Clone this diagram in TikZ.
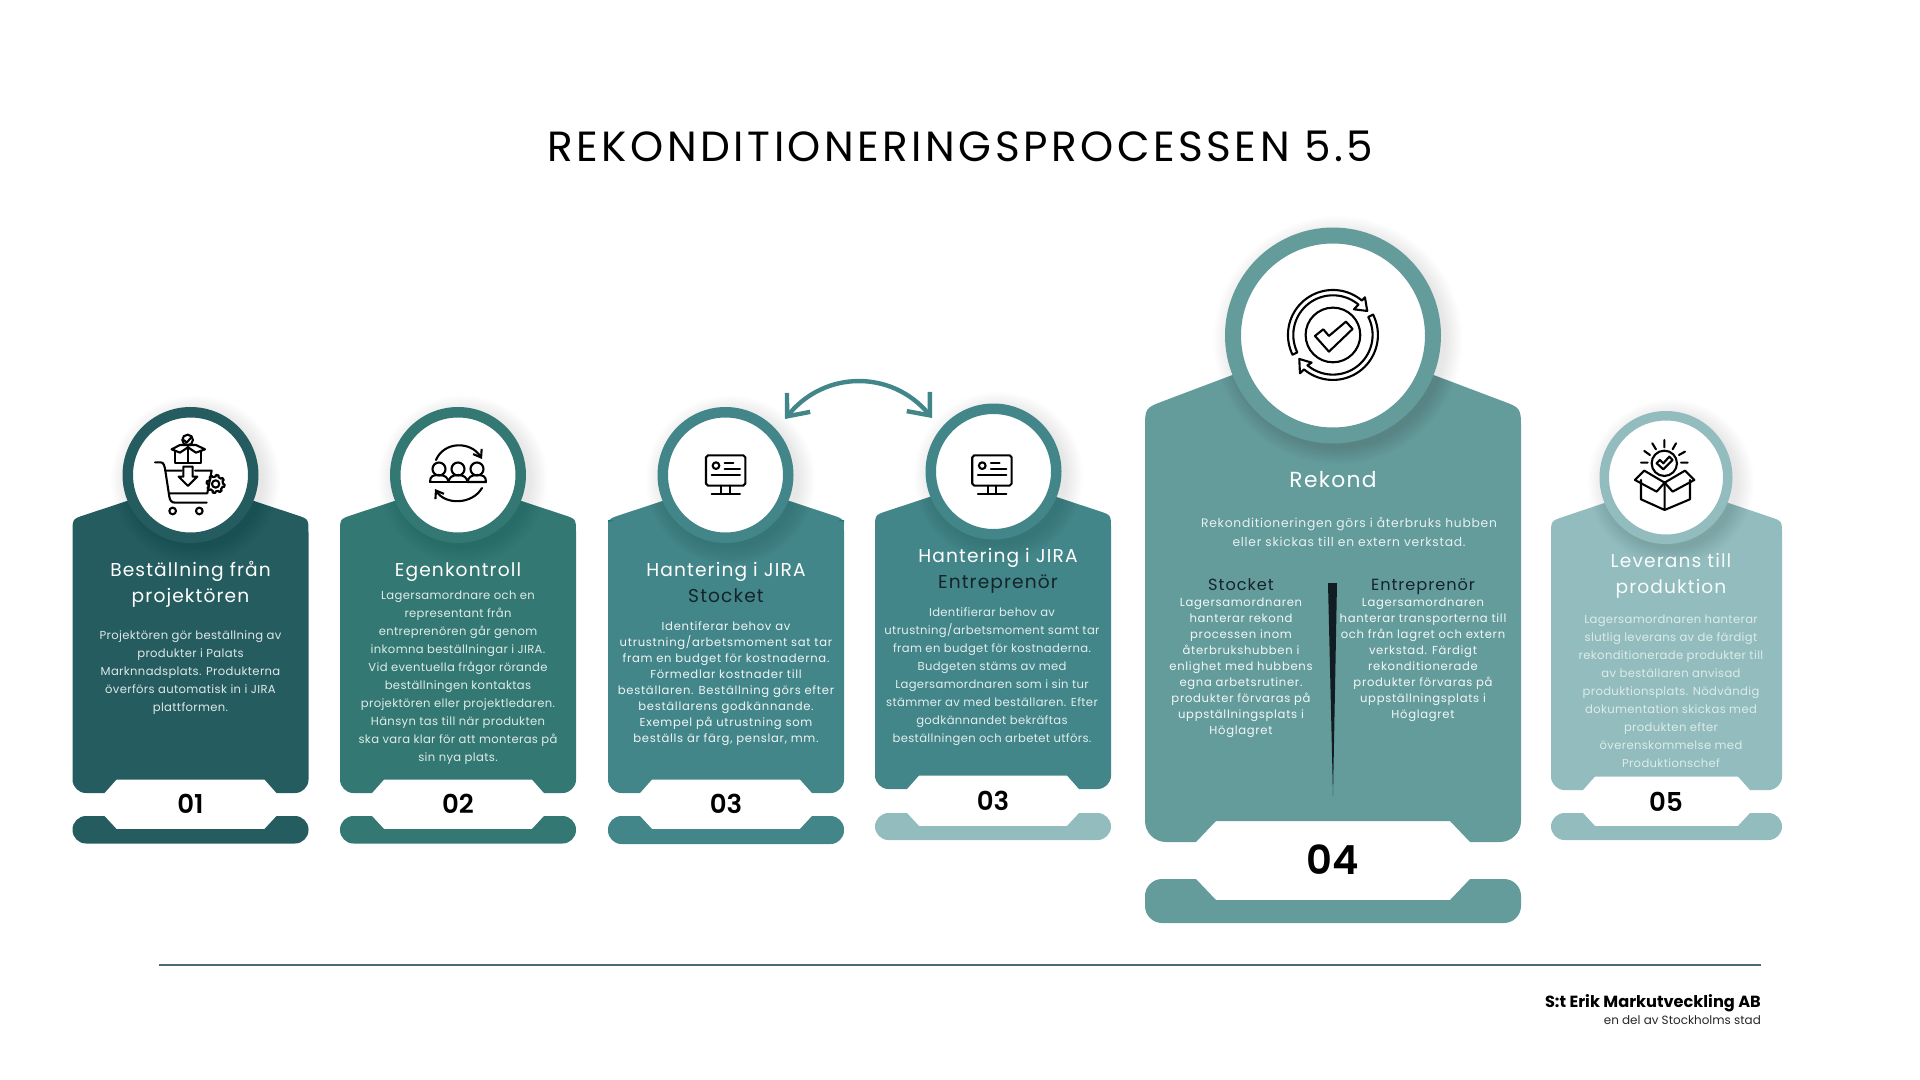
\documentclass[tikz,border=0pt]{standalone}
\usepackage{fontspec}
\setmainfont{Poppins}
\newfontfamily\widefont{Poppins}[LetterSpace=6]
\newfontfamily\descfont{Poppins}[LetterSpace=3]
\newfontfamily\headfont{Poppins}[LetterSpace=8.3]
\newfontfamily\numfont{Poppins SemiBold}
\usetikzlibrary{
    arrows.meta,
    calc,
}
\definecolor{cardA}{HTML}{255C60}
\definecolor{cardB}{HTML}{337872}
\definecolor{cardC}{HTML}{428689}
\definecolor{cardD}{HTML}{649C9C}
\definecolor{cardE}{HTML}{92BCBD}
\definecolor{inkdark}{HTML}{15242A}
\tikzstyle{ringsmall}=[circle,fill=white,inner sep=0pt,line width=.525cm,minimum size=6.275cm]
\tikzstyle{cardtitle}=[align=center,inner sep=0pt,font=\widefont\fontsize{26.5}{37}\selectfont]
\tikzstyle{carddesc}=[align=center,inner sep=0pt,font=\descfont\fontsize{16.5}{25.6}\selectfont]
\tikzstyle{carddense}=[align=center,inner sep=0pt,font=\widefont\fontsize{16.5}{22.76}\selectfont]
\tikzstyle{cardnum}=[inner sep=0pt,font=\numfont\fontsize{37}{37}\selectfont,text=black]
\tikzstyle{subhead}=[anchor=base,inner sep=0pt,text=inkdark,font=\widefont\fontsize{23}{23}\selectfont]
\tikzstyle{icon}=[draw=black,line width=.105cm,line join=round,line cap=round]
\tikzstyle{zoomed}=[x=.016667cm,y=-.016667cm]
\newcommand{\cardbody}[9]{%
    \fill[#1] ({(#2+#3)/2},#5)
        -- ($(#3,#4)!.1!({(#2+#3)/2},#5)$) .. controls (#3,#4) .. (#3,{#4+#7})
        -- (#3,{#6-#7}) .. controls (#3,{#6-.45*#7}) and ({#3-.45*#7},#6) .. ({#3-#7},#6)
        -- ({#3-#8},#6) -- ({#3-#9},{#6-#7}) -- ({#2+#9},{#6-#7}) -- ({#2+#8},#6)
        -- ({#2+#7},#6) .. controls ({#2+.45*#7},#6) and (#2,{#6-.45*#7}) .. (#2,{#6-#7})
        -- (#2,{#4+#7}) .. controls (#2,#4) .. ($(#2,#4)!.1!({(#2+#3)/2},#5)$) -- cycle;}
\newcommand{\cardfoot}[9]{%
    \fill[#1] ({#2+#9},#4) -- ({#2+#7},#4) -- ({#2+#8},{#4+#6}) -- ({#3-#8},{#4+#6}) -- ({#3-#7},#4)
        -- ({#3-#9},#4) .. controls ({#3-.45*#9},#4) and (#3,{#4+.45*#9}) .. (#3,{#4+#9})
        -- (#3,{#5-#9}) .. controls (#3,{#5-.45*#9}) and ({#3-.45*#9},#5) .. ({#3-#9},#5)
        -- ({#2+#9},#5) .. controls ({#2+.45*#9},#5) and (#2,{#5-.45*#9}) .. (#2,{#5-#9})
        -- (#2,{#4+#9}) .. controls (#2,{#4+.45*#9}) and ({#2+.45*#9},#4) .. ({#2+#9},#4) -- cycle;}
\newcommand{\softshadow}[3]{%
    \foreach \k in {0,...,11}
        \fill[black,opacity=.009] ({#1+5},{#2+5}) circle ({#3+\k*1.5});}
\newcommand{\monitoricon}[1]{%
    \begin{scope}[shift={(#1,370)},zoomed]
        \draw[icon] (198,262) -- (198,341) -- (204,347) -- (310,347) -- (316,341) -- (316,262) -- (310,256) -- (204,256) -- cycle;
        \draw[icon] (228,287) circle (10);
        \draw[icon] (254,280) -- (280,280) (254,297) -- (300,297) (215,315) -- (300,315);
        \draw[icon] (244,347) -- (244,372) (270,347) -- (270,372) (215,372) -- (300,372);
    \end{scope}}
\begin{document}
\begin{tikzpicture}[x=.05cm,y=-.05cm]
    \useasboundingbox (0,0) rectangle (1920,1080);
    \node[font=\headfont\fontsize{60}{60}\selectfont,text=black] (heading) at (960.5,146) {REKONDITIONERINGSPROCESSEN 5.5};

    \cardbody{cardA}{72.5}{308.5}{519}{480}{793}{13.5}{32}{44}
    \cardfoot{cardA}{72.5}{308.5}{816}{843.5}{13}{32}{44}{13.5}
    \softshadow{190.5}{475}{68}
    \node[ringsmall,draw=cardA] (ring1) at (190.5,475) {};
    \node[cardtitle,text=white] (title1) at (190.5,584.4) {Beställning från\\projektören};
    \node[carddesc,text=white!85!cardA] (desc1) at (190.5,673) {Projektören gör beställning av\\produkter i Palats\\Marknnadsplats. Produkterna\\överförs automatisk in i JIRA\\plattformen.};
    \node[cardnum] (num1) at (190.5,804) {01};

    \cardbody{cardB}{340}{576}{519}{480}{793}{13.5}{32}{44}
    \cardfoot{cardB}{340}{576}{816}{843.5}{13}{32}{44}{13.5}
    \softshadow{458}{475}{68}
    \node[ringsmall,draw=cardB] (ring2) at (458,475) {};
    \node[cardtitle,text=white] (title2) at (458,572.5) {Egenkontroll};
    \node[carddesc,text=white!85!cardB] (desc2) at (458,677.5) {Lagersamordnare och en\\representant från\\entreprenören går genom\\inkomna beställningar i JIRA.\\Vid eventuella frågor rörande\\beställningen kontaktas\\projektören eller projektledaren.\\Hänsyn tas till när produkten\\ska vara klar för att monteras på\\sin nya plats.};
    \node[cardnum] (num2) at (458,804) {02};

    \cardbody{cardC}{608}{844}{519}{480}{793}{13.5}{32}{44}
    \fill[cardC] (608,521) rectangle (844,560);
    \fill[teal!80!cardC] (608,520) -- (614,520) -- (608,522) -- cycle (844,520) -- (838,520) -- (844,522) -- cycle;
    \cardfoot{cardC}{608}{844}{816}{844}{13}{32}{44}{13.5}
    \softshadow{725.5}{475}{68}
    \node[ringsmall,draw=cardC] (ring3) at (725.5,475) {};
    \node[cardtitle,text=white] (title3) at (726,582) {Hantering i JIRA\\{\color{inkdark}Stocket}};
    \node[carddense,text=white!92!cardC] (desc3) at (726,684) {Identiferar behov av\\utrustning/arbetsmoment sat tar\\fram en budget för kostnaderna.\\Förmedlar kostnader till\\beställaren. Beställning görs efter\\beställarens godkännande.\\Exempel på utrustning som\\beställs är färg, penslar, mm.};
    \node[cardnum] (num3) at (726,804) {03};

    \cardbody{cardC}{875}{1111}{515}{476}{789}{13.5}{32}{44}
    \cardfoot{cardE}{875}{1111}{813}{840}{13}{32}{44}{13.5}
    \softshadow{993.5}{471.5}{68}
    \node[ringsmall,draw=cardC] (ring3b) at (993.5,471.5) {};
    \node[cardtitle,text=white] (title3b) at (998,570.4) {Hantering i JIRA\\{\color{inkdark}Entreprenör}};
    \node[carddesc,text=white!85!cardC] (desc3b) at (992,677) {Identifierar behov av\\utrustning/arbetsmoment samt tar\\fram en budget för kostnaderna.\\Budgeten stäms av med\\Lagersamordnaren som i sin tur\\stämmer av med beställaren. Efter\\godkännandet bekräftas\\beställningen och arbetet utförs.};
    \node[cardnum] (num3b) at (993,801) {03};

    \coordinate (swapL) at ($(ring3)+(59.5,-56)$);
    \coordinate (swapR) at ($(ring3b)+(-61.5,-53.5)$);
    \draw[cardC,line width=.22cm,{Straight Barb[length=.9cm,width=1.5cm]}-{Straight Barb[length=.9cm,width=1.5cm]}] (swapL) .. controls (825,370) and (892,370) .. (swapR);

    \cardbody{cardD}{1145}{1521}{408}{337}{842}{21}{51}{71}
    \cardfoot{cardD}{1145}{1521}{879}{923}{21}{51}{71}{17}
    \softshadow{1333}{335.5}{108}
    \node[circle,fill=white,inner sep=0pt,draw=cardD,line width=.8cm,minimum size=10cm] (ring4) at (1333,335.5) {};
    \node[cardtitle,text=white,font=\widefont\fontsize{31}{31}\selectfont] (title4) at (1333,480) {Rekond};
    \node[carddesc,text=white!85!cardD,font=\widefont\fontsize{17.5}{27}\selectfont] (intro4) at (1349,532.5) {Rekonditioneringen görs i återbruks hubben\\eller skickas till en extern verkstad.};
    \node[subhead] (stock4) at (1241,590) {Stocket};
    \node[subhead] (entre4) at (1423,590) {Entreprenör};
    \node[carddense,text=white!92!cardD] (desc4a) at (1241,668) {Lagersamordnaren\\hanterar rekond\\processen inom\\återbrukshubben i\\enlighet med hubbens\\egna arbetsrutiner.\\produkter förvaras på\\uppställningsplats i\\Höglagret};
    \node[carddense,text=white!92!cardD] (desc4b) at (1423,660) {Lagersamordnaren\\hanterar transporterna till\\och från lagret och extern\\verkstad. Färdigt\\rekonditionerade\\produkter förvaras på\\uppställningsplats i\\Höglagret};
    \fill[inkdark!80!black] (1328,583) -- (1337,583) -- (1333,796) -- cycle;
    \node[cardnum,font=\numfont\fontsize{57}{57}\selectfont] (num4) at (1333,860) {04};

    \cardbody{cardE}{1551}{1782}{521}{482}{790}{13.5}{32}{44}
    \cardfoot{cardE}{1551}{1782}{813}{840}{13}{32}{44}{13.5}
    \softshadow{1666}{477.5}{66.5}
    \node[circle,fill=white,inner sep=0pt,draw=cardE,line width=.475cm,minimum size=6.175cm] (ring5) at (1666,477.5) {};
    \node[cardtitle,text=white!95!cardE] (title5) at (1671,576) {Leverans till\\produktion};
    \node[carddesc,text=white!70!cardE] (desc5) at (1671,691) {Lagersamordnaren hanterar\\slutlig leverans av de färdigt\\rekonditionerade produkter till\\av beställaren anvisad\\produktionsplats. Nödvändig\\dokumentation skickas med\\produkten efter\\överenskommelse med\\Produktionschef};
    \node[cardnum] (num5) at (1666,802) {05};

    \begin{scope}[shift={(120,410)},zoomed]
        \draw[icon] (203,90) circle (16);
        \draw[icon] (192,90) -- (200,98) -- (214,82);
        \draw[icon] (155,118) -- (180,105) -- (228,105) -- (255,118) -- (228,128) -- (204,112) -- (180,128) -- cycle;
        \draw[icon] (165,125) -- (165,158) -- (243,158) -- (243,125) (204,112) -- (204,158);
        \draw[icon] (105,157) -- (122,157) .. controls (132,157) and (134,170) .. (136,182) -- (148,260) .. controls (150,272) and (155,278) .. (165,278) -- (260,278);
        \draw[icon] (136,182) -- (185,182) (225,182) -- (275,182) -- (262,250) -- (150,250);
        \draw[icon] (190,170) -- (218,170) -- (218,200) -- (232,200) -- (204,228) -- (176,200) -- (190,200) -- cycle;
        \draw[icon] (158,303) circle (10) (238,303) circle (10);
        \draw[icon] (287,222) circle (11);
        \draw[icon] plot[domain=0:360,samples=145] ({287+(22+5*(sin(8*\x)>0))*cos(\x)},{222+(22+5*(sin(8*\x)>0))*sin(\x)});
    \end{scope}

    \begin{scope}[shift={(458,472)}]
        \foreach \hx in {-19,0,19}
            \draw[icon] (\hx,-3) circle (6.5);
        \draw[icon] (-28,10) .. controls (-28,4) and (-25,3) .. (-19,3) .. controls (-14,3) and (-10,5) .. (-9.5,10);
        \draw[icon] (-9.5,10) .. controls (-9,5) and (-5,3) .. (0,3) .. controls (5,3) and (9,5) .. (9.5,10);
        \draw[icon] (9.5,10) .. controls (10,5) and (14,3) .. (19,3) .. controls (25,3) and (28,4) .. (28,10) -- cycle;
        \draw[icon] (-28,10) -- (9.5,10);
        \draw[icon,-{Straight Barb[length=.35cm,width=.5cm]}] (-22,-12) .. controls (-14,-31) and (13,-31) .. (24,-13);
        \draw[icon,-{Straight Barb[length=.35cm,width=.5cm]}] (24,16) .. controls (14,33) and (-13,33) .. (-23,17);
    \end{scope}

    \monitoricon{640}
    \monitoricon{906.3}

    \begin{scope}[shift={(1130,210)},zoomed]
        \draw[icon] (609,375) circle (82);
        \draw[icon] (555,378) -- (580,358) -- (597,378) -- (648,335) -- (668,357) -- (597,425) -- cycle;
        \draw[icon] plot[domain=154:310,samples=40] ({609+135*cos(\x)},{375+135*sin(\x)}) -- (705,262) -- (712,303) -- (672,298) -- plot[domain=310:154,samples=40] ({609+119*cos(\x)},{375+119*sin(\x)}) -- cycle;
        \draw[icon] plot[domain=-27:130,samples=40] ({609+135*cos(\x)},{375+135*sin(\x)}) -- (510,490) -- (508,447) -- (545,458) -- plot[domain=130:-27,samples=40] ({609+119*cos(\x)},{375+119*sin(\x)}) -- cycle;
    \end{scope}

    \begin{scope}[shift={(1530,400)},zoomed]
        \draw[icon] (403,190) circle (38);
        \draw[icon] (380,190) -- (390,180) -- (400,190) -- (418,170) -- (428,180) -- (400,208) -- cycle;
        \draw[icon] (403,120) -- (403,142) (367,130) -- (378,148) (343,153) -- (360,165) (333,188) -- (353,188);
        \draw[icon] (438,130) -- (428,148) (465,155) -- (447,165) (473,188) -- (453,188);
        \draw[icon] (333,240) -- (333,298) -- (404,330) -- (480,298) -- (480,240) (404,248) -- (404,330);
        \draw[icon] (404,248) -- (343,212) -- (315,240) -- (380,275) -- cycle;
        \draw[icon] (404,248) -- (465,212) -- (493,240) -- (428,275) -- cycle;
    \end{scope}

    \draw[cardD!70!black,line width=.055cm] (159,965) -- (1761,965);
    \node[anchor=east,inner sep=0pt,font=\bfseries\fontsize{23}{23}\selectfont,text=black] (brand) at (1761,1003) {S:t Erik Markutveckling AB};
    \node[anchor=east,inner sep=0pt,font=\fontsize{17}{17}\selectfont,text=black!85] (brandsub) at (1761,1020) {en del av Stockholms stad};
\end{tikzpicture}
\end{document}
